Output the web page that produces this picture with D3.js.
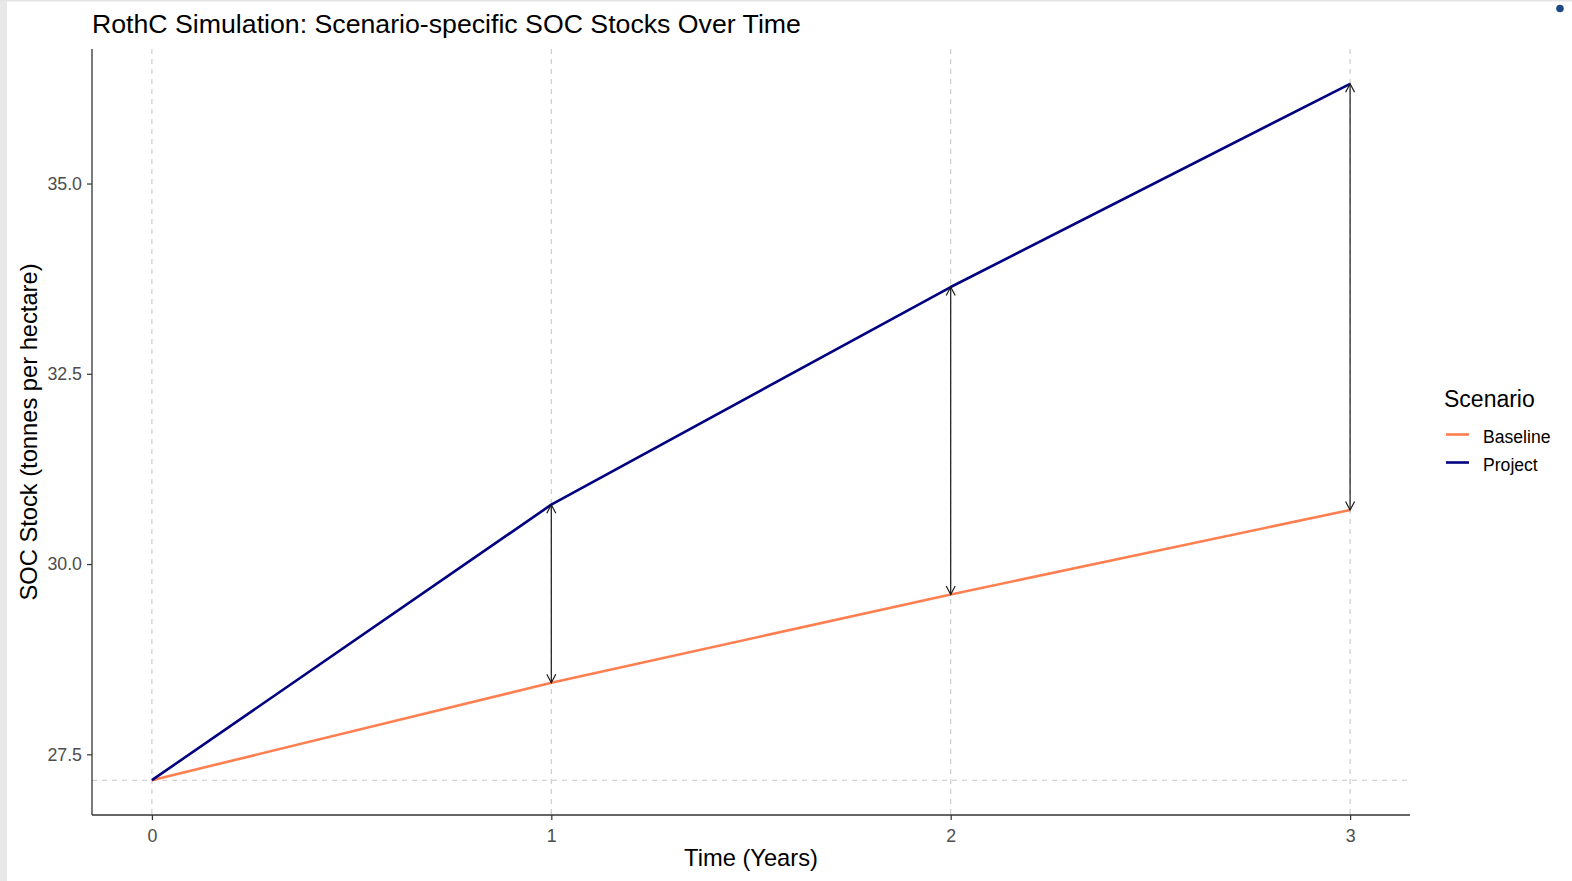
<!DOCTYPE html>
<html><head><meta charset="utf-8">
<script src="https://cdn.jsdelivr.net/npm/d3@7"></script>
<style>
html,body{margin:0;padding:0;background:#fff;}
svg{display:block;font-family:"Liberation Sans",Arial,sans-serif;}
</style></head>
<body>
<svg id="chart" width="1572" height="881"></svg>
<script>
const years = [0, 1, 2, 3];
const baseline = [27.16, 28.44, 29.60, 30.71];
const project = [27.16, 30.78, 33.64, 36.31];
const yTicks = [27.5, 30.0, 32.5, 35.0];
const xTicks = [0, 1, 2, 3];
const initialSOC = 27.16;
const seriesNames = ["Baseline", "Project"];
const seriesColors = ["#ff7f50", "#000080"];

const svg = d3.select("#chart");
const W = 1572, H = 881;
const panel = {left: 92, right: 1410, top: 49, bottom: 815};

// background decorations
svg.append("rect").attr("x", 0).attr("y", 0).attr("width", W).attr("height", H).attr("fill", "#fff");
svg.append("rect").attr("x", 0).attr("y", 0).attr("width", 7).attr("height", H).attr("fill", "#e8e8e8");
svg.append("rect").attr("x", 0).attr("y", 0).attr("width", W).attr("height", 1.5).attr("fill", "#e4e4e4");
svg.append("circle").attr("cx", 1560).attr("cy", 8.5).attr("r", 3.8).attr("fill", "#1d4a87");

const allVals = baseline.concat(project);
const [ymin, ymax] = d3.extent(allVals);
const yPad = (ymax - ymin) * 0.05;
const [xmin, xmax] = d3.extent(years);
const xPad = (xmax - xmin) * 0.05;

const x = d3.scaleLinear().domain([xmin - xPad, xmax + xPad]).range([panel.left, panel.right]);
const y = d3.scaleLinear().domain([ymin - yPad, ymax + yPad]).range([panel.bottom, panel.top]);

// vertical dashed gridlines
svg.append("g").selectAll("line").data(xTicks).join("line")
  .attr("x1", d => x(d)).attr("x2", d => x(d))
  .attr("y1", panel.top).attr("y2", panel.bottom)
  .attr("stroke", "#c8c8c8").attr("stroke-width", 1.1).attr("stroke-dasharray", "5,5");

// horizontal dashed line at initial SOC
svg.append("line")
  .attr("x1", panel.left).attr("x2", panel.right)
  .attr("y1", y(initialSOC)).attr("y2", y(initialSOC))
  .attr("stroke", "#c8c8c8").attr("stroke-width", 1.1).attr("stroke-dasharray", "5,5");

// series lines
const seriesData = [baseline, project];
seriesData.forEach((vals, k) => {
  svg.append("path")
    .datum(vals)
    .attr("d", d3.line().x((d, i) => x(years[i])).y(d => y(d)))
    .attr("fill", "none").attr("stroke", seriesColors[k]).attr("stroke-width", 2.6)
    .attr("stroke-linejoin", "round");
});

// arrows
const defs = svg.append("defs");
["start", "end"].forEach(kind => {
  const m = defs.append("marker").attr("id", "arr-" + kind)
    .attr("viewBox", "-10 -6 12 12").attr("refX", 0).attr("refY", 0)
    .attr("markerWidth", 12).attr("markerHeight", 12)
    .attr("markerUnits", "userSpaceOnUse").attr("orient", kind === "start" ? "auto-start-reverse" : "auto");
  m.append("path").attr("d", "M-8.5,-4.5 L0,0 L-8.5,4.5").attr("fill", "none")
    .attr("stroke", "#1a1a1a").attr("stroke-width", 1.2);
});
const arrowIdx = [1, 2, 3];
svg.append("g").selectAll("line").data(arrowIdx).join("line")
  .attr("x1", i => x(years[i])).attr("x2", i => x(years[i]))
  .attr("y1", i => y(baseline[i])).attr("y2", i => y(project[i]))
  .attr("stroke", "#1a1a1a").attr("stroke-width", 1.2)
  .attr("marker-start", "url(#arr-start)").attr("marker-end", "url(#arr-end)");

// axes
const xAxis = d3.axisBottom(x).tickValues(xTicks).tickFormat(d3.format("d")).tickSize(5).tickPadding(9);
const yAxis = d3.axisLeft(y).tickValues(yTicks).tickFormat(d3.format(".1f")).tickSize(5).tickPadding(5);
const gx = svg.append("g").attr("transform", `translate(0,${panel.bottom})`).call(xAxis);
const gy = svg.append("g").attr("transform", `translate(${panel.left},0)`).call(yAxis);
[gx, gy].forEach(g => {
  g.select(".domain").attr("stroke", "#333").attr("stroke-width", 1.3);
  g.selectAll(".tick line").attr("stroke", "#333").attr("stroke-width", 1.2);
  g.selectAll(".tick text").attr("fill", "#4d4d4d").attr("font-size", 17.8)
    .attr("font-family", "Liberation Sans, Arial, sans-serif");
});
gx.select(".domain").attr("d", `M${panel.left},0H${panel.right}`);
gy.select(".domain").attr("d", `M0,${panel.top}V${panel.bottom}`);

// titles
svg.append("text").attr("x", 92).attr("y", 33).attr("font-size", 26.7).attr("fill", "#000")
  .text("RothC Simulation: Scenario-specific SOC Stocks Over Time");
svg.append("text").attr("x", (panel.left + panel.right) / 2).attr("y", 866)
  .attr("text-anchor", "middle").attr("font-size", 23.7).attr("fill", "#000").text("Time (Years)");
svg.append("text").attr("transform", `translate(37,${(panel.top + panel.bottom) / 2}) rotate(-90)`)
  .attr("text-anchor", "middle").attr("font-size", 23.7).attr("fill", "#000")
  .text("SOC Stock (tonnes per hectare)");

// legend
const lg = svg.append("g");
lg.append("text").attr("x", 1444).attr("y", 407).attr("font-size", 23).attr("fill", "#000").text("Scenario");
seriesNames.forEach((name, i) => {
  const cy = 434.5 + i * 28;
  lg.append("line").attr("x1", 1446).attr("x2", 1469).attr("y1", cy).attr("y2", cy)
    .attr("stroke", seriesColors[i]).attr("stroke-width", 2.6);
  lg.append("text").attr("x", 1483).attr("y", cy + 8.5).attr("font-size", 17.6).attr("fill", "#000").text(name);
});
</script>
</body></html>
